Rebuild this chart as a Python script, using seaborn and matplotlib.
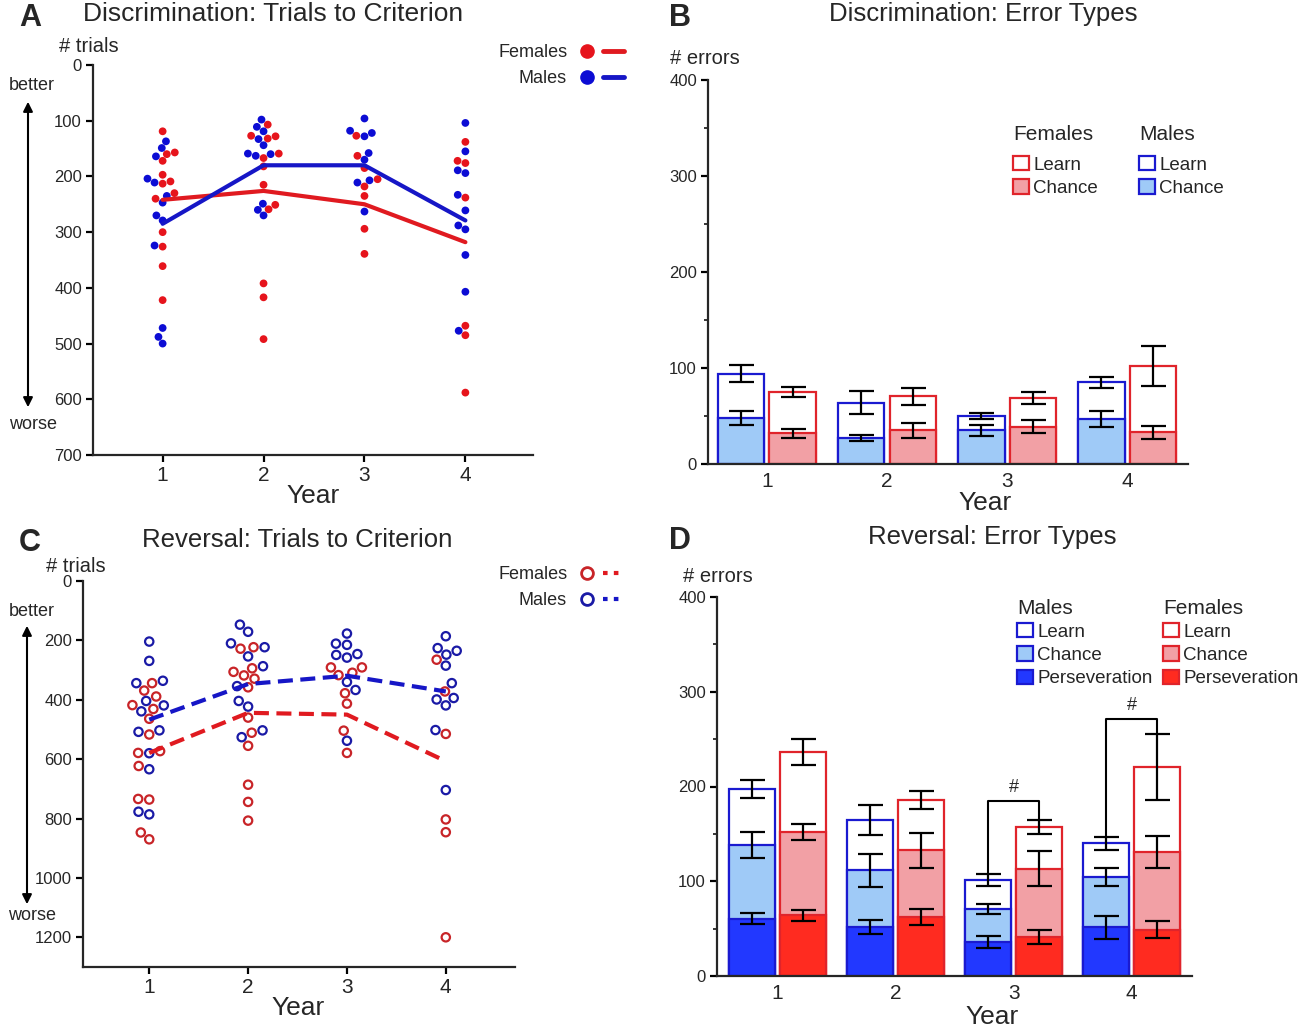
import matplotlib
matplotlib.use("Agg")
import matplotlib.pyplot as plt
import pandas as pd
import seaborn as sns
from matplotlib.lines import Line2D
from matplotlib.patches import Patch, FancyArrowPatch
from matplotlib.legend_handler import HandlerTuple
from matplotlib.ticker import MultipleLocator

sns.set_style("ticks")
plt.rcParams["font.family"] = ["Liberation Sans", "DejaVu Sans"]

W, H = 1304, 1032

years = [1, 2, 3, 4]
year_labels = ["1", "2", "3", "4"]
sexes = ["Males", "Females"]

# --- A: discrimination, trials to criterion (one list per year)
disc_trials_f = [
    [160, 209, 240, 172, 119, 157, 213, 230, 197, 300, 326, 361, 422],
    [107, 132, 127, 128, 159, 167, 182, 215, 259, 251, 392, 417, 492],
    [127, 163, 185, 205, 218, 235, 294, 339],
    [176, 138, 172, 238, 468, 485, 588],
]
disc_trials_m = [
    [137, 149, 164, 204, 235, 247, 211, 270, 279, 324, 472, 488, 500],
    [98, 111, 133, 119, 144, 159, 163, 160, 249, 270, 260],
    [96, 122, 118, 128, 158, 170, 207, 211, 263],
    [104, 155, 194, 189, 233, 261, 288, 295, 341, 407, 477],
]
disc_line_f = [242, 226, 250, 318]
disc_line_m = [285, 180, 180, 279]

# --- C: reversal, trials to criterion
rev_trials_f = [
    [369, 344, 431, 464, 517, 389, 418, 573, 579, 623, 736, 734, 870, 847],
    [223, 228, 318, 294, 329, 306, 358, 460, 511, 555, 686, 744, 807],
    [309, 291, 291, 317, 378, 413, 504, 579],
    [265, 372, 515, 803, 846, 1200],
]
rev_trials_m = [
    [204, 269, 336, 344, 419, 404, 439, 508, 503, 580, 634, 786, 777],
    [147, 171, 223, 210, 254, 287, 354, 404, 423, 503, 526],
    [177, 215, 211, 246, 258, 249, 340, 367, 538],
    [186, 226, 235, 248, 285, 344, 399, 419, 394, 502, 704],
]
rev_line_f = [579, 444, 450, 607]
rev_line_m = [467, 347, 319, 372]

# --- B: discrimination error types (mean, sem)
disc_m_total = [94, 64, 50, 85]
disc_m_total_err = [9, 12, 3, 6]
disc_m_chance = [48, 27, 35, 47]
disc_m_chance_err = [7.5, 3.5, 5.5, 8.5]
disc_f_total = [75, 70.5, 69, 102]
disc_f_total_err = [5, 9, 6, 21]
disc_f_chance = [32, 35, 39, 33]
disc_f_chance_err = [4.5, 8, 7, 7]

# --- D: reversal error types (mean, sem)
rev_m_total = [197, 165, 101, 140]
rev_m_total_err = [9.5, 16, 6.5, 6.5]
rev_m_chance = [138.5, 111.5, 71, 105]
rev_m_chance_err = [13.5, 17.5, 5.5, 9.5]
rev_m_persev = [60.5, 51.5, 36, 51.5]
rev_m_persev_err = [6, 7.5, 6.5, 12]
rev_f_total = [236.5, 186, 157.5, 220.5]
rev_f_total_err = [13.5, 9.5, 7.5, 35]
rev_f_chance = [152, 132.5, 113, 131]
rev_f_chance_err = [8.5, 18, 18.5, 17]
rev_f_persev = [64, 62.5, 41, 49]
rev_f_persev_err = [5.5, 8.5, 7.5, 9]

sig_years = ["3", "4"]
sig_height = [185, 271]

# colours
red_dot, blue_dot = "#e6141c", "#0c0cd4"
red_line, blue_line = "#e01a20", "#1616c6"
red_ring, blue_ring = "#c82428", "#1a1aa6"
red_edge, blue_edge = "#e0242b", "#1a1ad0"
pink, light_blue = "#f2a0a5", "#9fcaf7"
red_full, blue_full = "#ff2b20", "#2238ff"
edge = {"Males": blue_edge, "Females": red_edge}


def fx(x):
    return x / W


def fy(y):
    return 1 - y / H


def points_df(females, males):
    rows = []
    for sex, per_year in (("Females", females), ("Males", males)):
        for yr, vals in zip(years, per_year):
            rows += [(yr, sex, v) for v in vals]
    return pd.DataFrame(rows, columns=["year", "sex", "trials"])


def line_df(females, males):
    return pd.DataFrame({"year": years * 2,
                         "sex": ["Females"] * 4 + ["Males"] * 4,
                         "trials": females + males})


def bars_df(cols):
    d = {"year": year_labels * 2, "sex": ["Males"] * 4 + ["Females"] * 4}
    for name, (m, f) in cols.items():
        d[name] = m + f
    return pd.DataFrame(d)


fig = plt.figure(figsize=(W / 100, H / 100), dpi=100)


def axes_at(l, t, r, b):
    return fig.add_axes([l / W, 1 - b / H, (r - l) / W, (b - t) / H])


def style_axes(ax, xsize=15, ysize=12):
    sns.despine(ax=ax)
    for s in ("left", "bottom"):
        ax.spines[s].set_linewidth(1.6)
    ax.tick_params(axis="both", width=1.6, length=5, color="black")
    ax.tick_params(axis="x", labelsize=xsize, pad=3)
    ax.tick_params(axis="y", labelsize=ysize, pad=3)
    ax.set_xlabel("")
    ax.set_ylabel("")


def arrow(x, y0, y1):
    fig.add_artist(FancyArrowPatch((fx(x), fy(y0)), (fx(x), fy(y1)),
                                   transform=fig.transFigure, arrowstyle="<|-|>",
                                   mutation_scale=14, lw=1.5, color="black"))


def txt(x, y, s, size, **kw):
    fig.text(fx(x), fy(y), s, fontsize=size, ha=kw.pop("ha", "center"),
             va=kw.pop("va", "center"), **kw)


def sex_legend(ax, handles, x, y):
    ax.legend(handles, ["Females", "Males"],
              handler_map={tuple: HandlerTuple(ndivide=None, pad=0.3)},
              markerfirst=False, frameon=False, loc="upper left",
              bbox_to_anchor=(fx(x), fy(y)), bbox_transform=fig.transFigure,
              fontsize=13, handlelength=2.65, labelspacing=0.52, borderpad=0,
              borderaxespad=0, handletextpad=0.5)


# ---------------- Panel A ----------------
axA = axes_at(93, 65, 533, 455)
dA = points_df(disc_trials_f, disc_trials_m)
sns.swarmplot(data=dA, x="year", y="trials", hue="sex", native_scale=True,
              palette={"Females": red_dot, "Males": blue_dot}, size=5.6,
              linewidth=0, legend=False, ax=axA)
sns.lineplot(data=line_df(disc_line_f, disc_line_m), x="year", y="trials", hue="sex",
             palette={"Females": red_line, "Males": blue_line}, linewidth=3,
             legend=False, ax=axA, zorder=4)
axA.set_ylim(700, 0)
axA.set_xlim(0.31, 4.67)
axA.set_xticks(years)
axA.set_yticks(range(0, 701, 100))
style_axes(axA)

sex_legend(axA, [(Line2D([], [], marker="o", ls="none", color=red_dot, ms=9.5),
                  Line2D([], [], color=red_line, lw=3.5)),
                 (Line2D([], [], marker="o", ls="none", color=blue_dot, ms=9.5),
                  Line2D([], [], color=blue_line, lw=3.5))], 498, 44)

# ---------------- Panel C ----------------
axC = axes_at(83, 581, 515, 967)
dC = points_df(rev_trials_f, rev_trials_m)
sns.swarmplot(data=dC, x="year", y="trials", hue="sex", native_scale=True,
              palette={"Females": red_ring, "Males": blue_ring}, size=6,
              linewidth=0, legend=False, ax=axC)
for coll in axC.collections:
    fc = coll.get_facecolors()
    coll.set_edgecolors(fc)
    coll.set_facecolors("none")
    coll.set_linewidths(1.6)
sns.lineplot(data=line_df(rev_line_f, rev_line_m), x="year", y="trials", hue="sex",
             palette={"Females": red_line, "Males": blue_line}, linewidth=3,
             linestyle=(0, (3.6, 1.8)), legend=False, ax=axC, zorder=4)
axC.set_ylim(1300, 0)
axC.set_xlim(0.33, 4.7)
axC.set_xticks(years)
axC.set_yticks(range(0, 1201, 200))
style_axes(axC)

sex_legend(axC, [(Line2D([], [], marker="o", ls="none", mfc="none", mec=red_ring, mew=2, ms=8.5),
                  Line2D([], [], color=red_line, lw=3, ls=(0, (1.1, 1.5)))),
                 (Line2D([], [], marker="o", ls="none", mfc="none", mec=blue_ring, mew=2, ms=8.5),
                  Line2D([], [], color=blue_line, lw=3, ls=(0, (1.1, 1.5))))], 498, 566)


# ---------------- stacked bar helper ----------------
def draw_stack(ax, df, layers):
    tops = {}
    for col, fills in layers:
        n0 = len(ax.containers)
        sns.barplot(data=df, x="year", y=col, hue="sex", hue_order=sexes, order=year_labels,
                    palette=fills, saturation=1, width=0.86, gap=0.1, linewidth=1.6,
                    errorbar=None, legend=False, ax=ax)
        for cont, sex in zip(ax.containers[n0:], sexes):
            for b in cont:
                b.set_edgecolor(edge[sex])
            sub = df[df["sex"] == sex].set_index("year").loc[year_labels]
            xs = [b.get_x() + b.get_width() / 2 for b in cont]
            tops[(col, sex)] = (xs, sub[col].values, sub[col + "_err"].values)
    for xs, ys, es in tops.values():
        ax.errorbar(xs, ys, yerr=es, fmt="none", ecolor="black", elinewidth=1.6,
                    capsize=9, capthick=1.6, zorder=5)
    return tops


def patch(face, edgec):
    return Patch(facecolor=face, edgecolor=edgec, linewidth=1.6)


def key_legend(ax, handles, labels, title, x, y_title, y_rows):
    txt(x, y_title, title, 15, ha="left")
    leg = ax.legend(handles, labels, loc="upper left",
                    bbox_to_anchor=(fx(x), fy(y_rows)), bbox_transform=fig.transFigure,
                    frameon=False, fontsize=13.5, handlelength=0.85,
                    handleheight=0.8, handletextpad=0.22, labelspacing=0.3,
                    borderpad=0, borderaxespad=0)
    ax.add_artist(leg)
    ax.legend_ = None  # keep it only once, as a plain artist
    return leg


# ---------------- Panel B ----------------
axB = axes_at(708, 80, 1188, 464)
dB = bars_df({
    "total": (disc_m_total, disc_f_total), "total_err": (disc_m_total_err, disc_f_total_err),
    "chance": (disc_m_chance, disc_f_chance), "chance_err": (disc_m_chance_err, disc_f_chance_err),
})
draw_stack(axB, dB, [("total", {"Males": "white", "Females": "white"}),
                     ("chance", {"Males": light_blue, "Females": pink})])
axB.set_ylim(0, 400)
axB.set_xlim(-0.49, 3.505)
axB.set_yticks(range(0, 401, 100))
axB.yaxis.set_minor_locator(MultipleLocator(50))
style_axes(axB)
axB.tick_params(axis="x", length=0, pad=6)
axB.tick_params(axis="y", which="minor", length=3, width=1.3)
key_legend(axB, [patch("white", red_edge), patch(pink, red_edge)], ["Learn", "Chance"],
           "Females", 1013, 134, 156)
key_legend(axB, [patch("white", blue_edge), patch(light_blue, blue_edge)], ["Learn", "Chance"],
           "Males", 1139, 134, 156)

# ---------------- Panel D ----------------
axD = axes_at(717, 597, 1192, 976)
dD = bars_df({
    "total": (rev_m_total, rev_f_total), "total_err": (rev_m_total_err, rev_f_total_err),
    "chance": (rev_m_chance, rev_f_chance), "chance_err": (rev_m_chance_err, rev_f_chance_err),
    "persev": (rev_m_persev, rev_f_persev), "persev_err": (rev_m_persev_err, rev_f_persev_err),
})
topsD = draw_stack(axD, dD, [("total", {"Males": "white", "Females": "white"}),
                             ("chance", {"Males": light_blue, "Females": pink}),
                             ("persev", {"Males": blue_full, "Females": red_full})])
for yr, h in zip(sig_years, sig_height):
    i = year_labels.index(yr)
    xm, ym, em = [v[i] for v in topsD[("total", "Males")]]
    xf, yf, ef = [v[i] for v in topsD[("total", "Females")]]
    axD.plot([xm, xm, xf, xf], [ym + em, h, h, yf + ef], color="black", lw=1.5, zorder=6)
    axD.text((xm + xf) / 2, h + 5, "#", ha="center", va="bottom", fontsize=13)
axD.set_ylim(0, 400)
axD.set_xlim(-0.51, 3.51)
axD.set_yticks(range(0, 401, 100))
axD.yaxis.set_minor_locator(MultipleLocator(50))
style_axes(axD)
axD.tick_params(axis="x", length=0, pad=6)
axD.tick_params(axis="y", which="minor", length=3, width=1.3)
key_legend(axD, [patch("white", blue_edge), patch(light_blue, blue_edge), patch(blue_full, blue_edge)],
           ["Learn", "Chance", "Perseveration"], "Males", 1017, 609, 623)
key_legend(axD, [patch("white", red_edge), patch(pink, red_edge), patch(red_full, red_edge)],
           ["Learn", "Chance", "Perseveration"], "Females", 1163, 608, 623)

# ---------------- figure text ----------------
for x, y, s in [(30, 18, "A"), (680, 18, "B"), (30, 543, "C"), (680, 541, "D")]:
    txt(x, y, s, 22, fontweight="bold")
txt(273, 14, "Discrimination: Trials to Criterion", 19)
txt(983, 14, "Discrimination: Error Types", 18.5)
txt(297, 540, "Reversal: Trials to Criterion", 18.5)
txt(992, 537, "Reversal: Error Types", 18.5)
for x, y in [(313, 496), (985, 503), (298, 1008), (992, 1017)]:
    txt(x, y, "Year", 19)
txt(89, 46, "# trials", 14.5)
txt(76, 566, "# trials", 14.5)
txt(705, 58, "# errors", 14.5)
txt(718, 577, "# errors", 14.5)
txt(32, 86, "better", 13)
txt(33, 424, "worse", 13)
txt(32, 611, "better", 13)
txt(32, 915, "worse", 13)
arrow(28, 99, 410)
arrow(27, 623, 907)

fig.savefig("out.png", dpi=100)
